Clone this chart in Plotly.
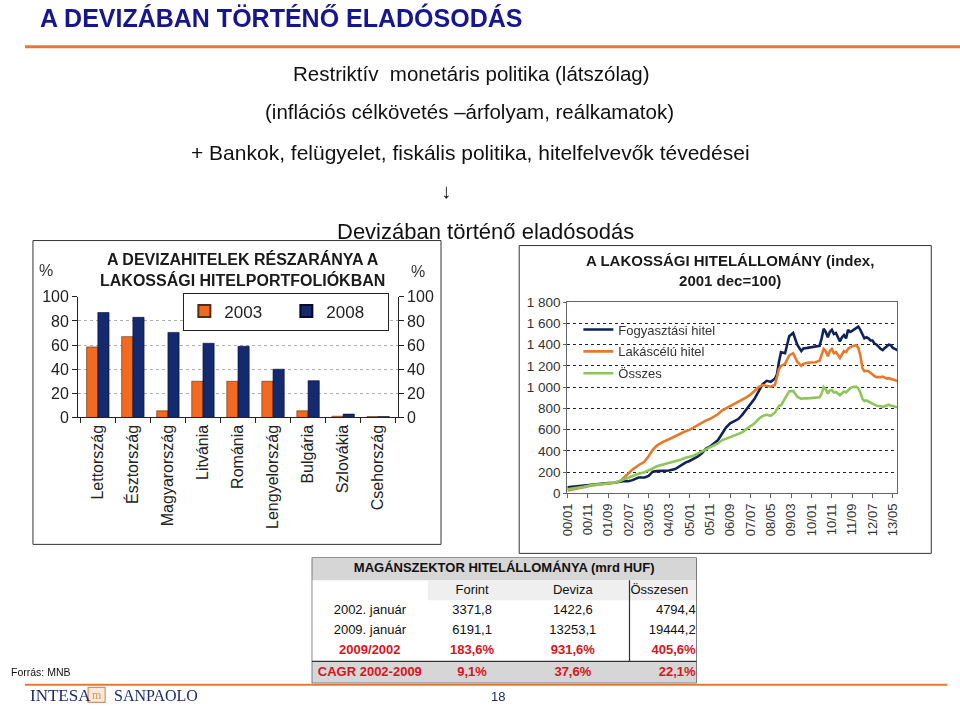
import plotly.graph_objects as go

# The photographed page shows the figure offset by the body margin and slightly
# scaled; positions below are given in final picture pixels and mapped back.
W, H = 960, 709
SX, BX = 0.986, 8.1
SY, BY = 0.9766, 7.3


def px(x):
    return ((x - BX) / SX) / W


def py(y):
    return 1 - ((y - BY) / SY) / H


# ---------------- data: left bar chart ----------------
countries = ["Lettország", "Észtország", "Magyarország", "Litvánia", "Románia",
             "Lengyelország", "Bulgária", "Szlovákia", "Csehország"]
share_2003 = [58.5, 67, 5.5, 30, 30, 30, 5.5, 1.0, 0.8]
share_2008 = [87, 83, 70.5, 61.5, 59, 40, 30.5, 2.8, 0.8]

# ---------------- data: right line chart (index, 2001 dec = 100) ----------------
months = [
    "2000-01", "2000-05", "2000-09", "2001-01", "2001-05", "2001-09", "2001-12", "2002-03", "2002-05", "2002-07",
    "2002-09", "2002-12", "2003-03", "2003-05", "2003-07", "2003-09", "2003-12", "2004-03", "2004-06", "2004-09",
    "2004-11", "2005-01", "2005-03", "2005-05", "2005-07", "2005-09", "2005-11", "2006-01", "2006-03", "2006-05",
    "2006-07", "2006-09", "2006-11", "2007-01", "2007-03", "2007-05", "2007-07", "2007-09", "2007-11", "2008-01",
    "2008-03", "2008-05", "2008-07", "2008-08", "2008-09", "2008-10", "2008-12", "2009-02", "2009-04", "2009-05",
    "2009-06", "2009-08", "2009-09", "2009-11", "2010-01", "2010-03", "2010-05", "2010-06", "2010-07", "2010-08",
    "2010-09", "2010-10", "2010-11", "2010-12", "2011-01", "2011-03", "2011-04", "2011-05", "2011-06", "2011-07",
    "2011-08", "2011-09", "2011-11", "2011-12", "2012-01", "2012-02", "2012-03", "2012-04", "2012-05", "2012-06",
    "2012-07", "2012-08", "2012-09", "2012-11", "2012-12", "2013-01", "2013-02", "2013-03", "2013-04", "2013-05",
    "2013-06", "2013-08",
]
fogyasztasi = [
    57, 65, 78, 85, 90, 98, 100, 115, 118, 115,
    125, 150, 150, 165, 205, 210, 212, 215, 230, 270,
    290, 305, 325, 345, 375, 420, 440, 470, 500, 560,
    620, 660, 680, 700, 740, 790, 840, 890, 960, 1030,
    1060, 1050, 1080, 1120, 1240, 1330, 1320, 1480, 1510, 1460,
    1400, 1340, 1365, 1370, 1375, 1380, 1390, 1460, 1550, 1520,
    1470, 1520, 1540, 1500, 1510, 1430, 1470, 1490, 1460, 1540,
    1520, 1530, 1560, 1570, 1540, 1500, 1460, 1470, 1460, 1440,
    1440, 1410, 1400, 1360, 1350, 1370, 1385, 1400, 1395, 1370,
    1360, 1340,
]
lakascelu = [
    28, 40, 58, 75, 85, 95, 100, 115, 150, 185,
    225, 265, 300, 350, 410, 450, 485, 510, 540, 565,
    585, 598, 620, 640, 660, 685, 700, 720, 745, 780,
    800, 820, 840, 860, 880, 905, 930, 965, 1000, 1020,
    1010, 1005, 1020, 1090, 1170, 1200, 1220, 1300, 1320, 1280,
    1240, 1200, 1220, 1230, 1230, 1235, 1250, 1300, 1360, 1340,
    1290, 1340, 1360, 1320, 1330, 1275, 1310, 1340, 1330, 1360,
    1375, 1385, 1395, 1370, 1300, 1180, 1150, 1155, 1150, 1130,
    1120, 1105, 1095, 1095, 1100, 1090, 1080, 1085, 1080, 1075,
    1065, 1055,
]
osszes = [
    40, 48, 62, 78, 88, 96, 100, 120, 135, 150,
    165, 185, 200, 215, 235, 255, 270, 285, 300, 320,
    335, 345, 355, 375, 395, 410, 430, 450, 470, 500,
    515, 525, 540, 555, 575, 605, 630, 660, 700, 730,
    740, 730, 760, 800, 825, 830, 900, 960, 965, 940,
    910, 890, 895, 895, 900, 902, 905, 940, 1000, 980,
    940, 970, 975, 950, 955, 925, 945, 960, 950, 975,
    990, 1000, 1005, 990, 950, 890, 870, 875, 865, 850,
    845, 835, 825, 820, 815, 820, 830, 835, 825, 825,
    815, 810,
]

# ---------------- data: table ----------------
table_title = "MAGÁNSZEKTOR HITELÁLLOMÁNYA (mrd HUF)"
row_labels = ["2002. január", "2009. január", "2009/2002", "CAGR 2002-2009"]
col_headers = ["", "Forint", "Deviza", "Összesen"]
forint = [3371.8, 6191.1]
deviza = [1422.6, 13253.1]
osszesen = [4794.4, 19444.2]
ratio_pct = [183.6, 931.6, 405.6]
cagr_pct = [9.1, 37.6, 22.1]

FONT = "Liberation Sans, Arial, sans-serif"
SERIF = "Liberation Serif, Times New Roman, serif"
ORANGE_BAR = "#F26A1F"
NAVY_BAR = "#142A6E"
RED = "#D4151C"


def hu(v):
    return f"{v:.1f}".replace(".", ",")


fig = go.Figure()

# ---- bar chart ----
fig.add_trace(go.Bar(x=countries, y=share_2003, name="2003", marker_color=ORANGE_BAR,
                     marker_line=dict(color="#5a2a10", width=0.6),
                     xaxis="x", yaxis="y", legend="legend"))
fig.add_trace(go.Bar(x=countries, y=share_2008, name="2008", marker_color=NAVY_BAR,
                     marker_line=dict(color="#0a0a30", width=0.6),
                     xaxis="x", yaxis="y", legend="legend"))
# invisible trace so that the right-hand axis is rendered
fig.add_trace(go.Scatter(x=countries, y=share_2008, mode="markers", opacity=0,
                         showlegend=False, hoverinfo="skip", xaxis="x", yaxis="y2"))

# ---- line chart ----
dates = [m + "-01" for m in months]
fig.add_trace(go.Scatter(x=dates, y=fogyasztasi, name="Fogyasztási hitel", mode="lines",
                         line=dict(color="#0F2259", width=2.6), xaxis="x2", yaxis="y3",
                         legend="legend2", legendgroup="a"))
fig.add_trace(go.Scatter(x=dates, y=lakascelu, name="Lakáscélú hitel", mode="lines",
                         line=dict(color="#E8792A", width=2.6), xaxis="x2", yaxis="y3",
                         legend="legend2", legendgroup="b"))
fig.add_trace(go.Scatter(x=dates, y=osszes, name="Összes", mode="lines",
                         line=dict(color="#8FC65A", width=2.6), xaxis="x2", yaxis="y3",
                         legend="legend2", legendgroup="c"))

# ---- table on its own hidden axes (units: table pixels) ----
col_edges = [0, 116, 216, 317, 384]
row_edges = [0, 23, 43, 63, 83, 104, 126]
row_mid = [(row_edges[i] + row_edges[i + 1]) / 2 for i in range(len(row_edges) - 1)]
col_mid = [(col_edges[i] + col_edges[i + 1]) / 2 for i in range(len(col_edges) - 1)]

body = [
    [row_labels[0], hu(forint[0]), hu(deviza[0]), hu(osszesen[0])],
    [row_labels[1], hu(forint[1]), hu(deviza[1]), hu(osszesen[1])],
    [f"<b>{row_labels[2]}</b>"] + [f"<b>{hu(v)}%</b>" for v in ratio_pct],
    [f"<b>{row_labels[3]}</b>"] + [f"<b>{hu(v)}%</b>" for v in cagr_pct],
]
body_color = ["#111", "#111", RED, RED]

tx, ty, tt, tp, tc = [], [], [], [], []
tx.append(col_edges[-1] / 2); ty.append(row_mid[0]); tt.append(f"<b>{table_title}</b>")
tp.append("middle center"); tc.append("#111")
for c in range(1, 4):
    if c == 3:
        tx.append(col_edges[3] + 1); tp.append("middle right")
    else:
        tx.append(col_mid[c] - 6); tp.append("middle center")
    ty.append(row_mid[1]); tt.append(col_headers[c]); tc.append("#111")
for r, row in enumerate(body):
    for c, val in enumerate(row):
        if c == 3:
            tx.append(col_edges[4] - 1); tp.append("middle left")
        else:
            tx.append(col_mid[c] - (6 if c in (1, 2) else 0)); tp.append("middle center")
        ty.append(row_mid[r + 2]); tt.append(val); tc.append(body_color[r])

fig.add_trace(go.Scatter(x=tx, y=ty, text=tt, mode="text", textposition=tp,
                         textfont=dict(family=FONT, size=13, color=tc),
                         showlegend=False, hoverinfo="skip", cliponaxis=False,
                         xaxis="x3", yaxis="y4"))

shapes = []
# table fills and borders (table axis coordinates)
shapes.append(dict(type="rect", xref="x3", yref="y4", x0=0, x1=col_edges[-1], y0=row_edges[0], y1=row_edges[1],
                   fillcolor="#D6D6D6", line=dict(width=0), layer="below"))
shapes.append(dict(type="rect", xref="x3", yref="y4", x0=col_edges[1], x1=col_edges[-1], y0=row_edges[1],
                   y1=row_edges[2], fillcolor="#EFEFEF", line=dict(width=0), layer="below"))
shapes.append(dict(type="rect", xref="x3", yref="y4", x0=0, x1=col_edges[-1], y0=row_edges[5], y1=row_edges[6],
                   fillcolor="#D6D6D6", line=dict(width=0), layer="below"))
shapes.append(dict(type="line", xref="x3", yref="y4", x0=0, x1=col_edges[-1], y0=row_edges[5], y1=row_edges[5],
                   line=dict(color="#333", width=1.2)))
shapes.append(dict(type="line", xref="x3", yref="y4", x0=col_edges[3], x1=col_edges[3], y0=row_edges[1],
                   y1=row_edges[5], line=dict(color="#333", width=1.2)))
shapes.append(dict(type="rect", xref="x3", yref="y4", x0=0, x1=col_edges[-1], y0=row_edges[0], y1=row_edges[-1],
                   line=dict(color="#333", width=1.2)))
# header orange rule
shapes.append(dict(type="line", xref="paper", yref="paper", x0=px(25), x1=px(960), y0=py(46), y1=py(46),
                   line=dict(color="#E8782E", width=3)))
# footer orange rule
shapes.append(dict(type="line", xref="paper", yref="paper", x0=px(25), x1=px(945), y0=py(684.5), y1=py(684.5),
                   line=dict(color="#E8782E", width=2), layer="below"))
# chart boxes
shapes.append(dict(type="rect", xref="paper", yref="paper", x0=px(33), x1=px(440), y0=py(544), y1=py(240),
                   line=dict(color="#333", width=1)))
shapes.append(dict(type="rect", xref="paper", yref="paper", x0=px(518), x1=px(929), y0=py(553), y1=py(245),
                   line=dict(color="#333", width=1)))
# logo box
shapes.append(dict(type="rect", xref="paper", yref="paper", x0=px(88), x1=px(105), y0=py(702), y1=py(687),
                   line=dict(color="#D99355", width=1.2), fillcolor="#FBEBDD"))

ann = []


def text(x, y, s, size, color="#111", bold=False, anchor="center", family=FONT):
    ann.append(dict(x=px(x), y=py(y), xref="paper", yref="paper", text=(f"<b>{s}</b>" if bold else s),
                    showarrow=False, xanchor=anchor, yanchor="middle",
                    font=dict(family=family, size=size, color=color)))


text(38, 17, "A DEVIZÁBAN TÖRTÉNŐ ELADÓSODÁS", 25, "#161690", bold=True, anchor="left")
text(470, 73, "Restriktív  monetáris politika (látszólag)", 20.5)
text(468, 111, "(inflációs célkövetés –árfolyam, reálkamatok)", 20.5)
text(469, 152, "+ Bankok, felügyelet, fiskális politika, hitelfelvevők tévedései", 21)
text(445, 190, "↓", 20.5)
text(484, 231, "Devizában történő eladósodás", 22)

text(242, 269, "A DEVIZAHITELEK RÉSZARÁNYA A<br>LAKOSSÁGI HITELPORTFOLIÓKBAN", 16, "#1a1a1a", bold=True)
text(46, 270, "%", 16, "#333")
text(417, 271, "%", 16, "#333")
text(728, 270, "A LAKOSSÁGI HITELÁLLOMÁNY (index,<br>2001 dec=100)", 15, "#1a1a1a", bold=True)

text(9, 672, "Forrás: MNB", 10.5, "#111", anchor="left")
text(28, 695, "INTESA", 17, "#1B2A6B", anchor="left", family=SERIF)
text(96.5, 695, "m", 12, "#D99355", family=SERIF)
text(112, 695, "SANPAOLO", 16, "#1B2A6B", anchor="left", family=SERIF)
text(497, 696, "18", 13, "#1B2A6B")

fig.update_layout(
    width=W, height=H, margin=dict(l=0, r=0, t=0, b=0),
    paper_bgcolor="white", plot_bgcolor="white",
    separators=", ",
    font=dict(family=FONT, color="#222"),
    barmode="group", bargap=0.36, bargroupgap=0.0,
    shapes=shapes, annotations=ann,
    xaxis=dict(domain=[px(78), px(397)], anchor="y", type="category",
               showline=True, linecolor="#222", linewidth=1,
               ticks="outside", tickson="boundaries", ticklen=5, tickcolor="#222",
               tickangle=-90, tickfont=dict(family=FONT, size=16, color="#222"),
               showgrid=False, fixedrange=True),
    yaxis=dict(domain=[py(417), py(296.3)], anchor="x", range=[0, 100], dtick=20,
               showline=True, linecolor="#222", linewidth=1, ticks="outside", ticklen=5,
               tickcolor="#222", tickfont=dict(family=FONT, size=16, color="#222"),
               showgrid=True, gridcolor="#B0B0B0", griddash="dot", gridwidth=1, zeroline=False),
    yaxis2=dict(overlaying="y", anchor="x", side="right", range=[0, 100], dtick=20,
                showline=True, linecolor="#222", linewidth=1, ticks="outside", ticklen=5,
                tickcolor="#222", tickfont=dict(family=FONT, size=16, color="#222"),
                showgrid=False, zeroline=False),
    xaxis2=dict(domain=[px(566), px(895)], anchor="y3", type="date",
                range=["2000-01-01", "2013-07-05"], tick0="2000-01-01", dtick="M10",
                tickformat="%y/%m", tickangle=-90,
                showline=True, mirror=True, linecolor="#666", linewidth=1,
                ticks="outside", ticklen=4, tickcolor="#666",
                tickfont=dict(family=FONT, size=13, color="#333"), showgrid=False),
    yaxis3=dict(domain=[py(493), py(301.7)], anchor="x2", range=[0, 1800], dtick=200,
                tickformat=",d", showline=True, mirror=True, linecolor="#666", linewidth=1,
                ticks="outside", ticklen=3, tickcolor="#666",
                tickfont=dict(family=FONT, size=13.5, color="#333"),
                showgrid=True, gridcolor="#222", griddash="dot", gridwidth=1, zeroline=False),
    xaxis3=dict(domain=[px(311), px(695)], anchor="y4", range=[0, col_edges[-1]], visible=False,
                fixedrange=True),
    yaxis4=dict(domain=[py(683), py(557)], anchor="x3", range=[row_edges[-1], 0], visible=False,
                fixedrange=True),
    legend=dict(orientation="h", x=px(183), y=py(292), xanchor="left", yanchor="top",
                bgcolor="white", bordercolor="#222", borderwidth=1,
                font=dict(family=FONT, size=17, color="#222"), entrywidth=57,
                itemsizing="constant", traceorder="normal"),
    legend2=dict(orientation="v", x=px(577), y=py(314), xanchor="left", yanchor="top",
                 bgcolor="rgba(0,0,0,0)", borderwidth=0, itemwidth=30,
                 font=dict(family=FONT, size=13, color="#333"),
                 tracegroupgap=2, traceorder="grouped"),
)

fig.write_html("out.html")
